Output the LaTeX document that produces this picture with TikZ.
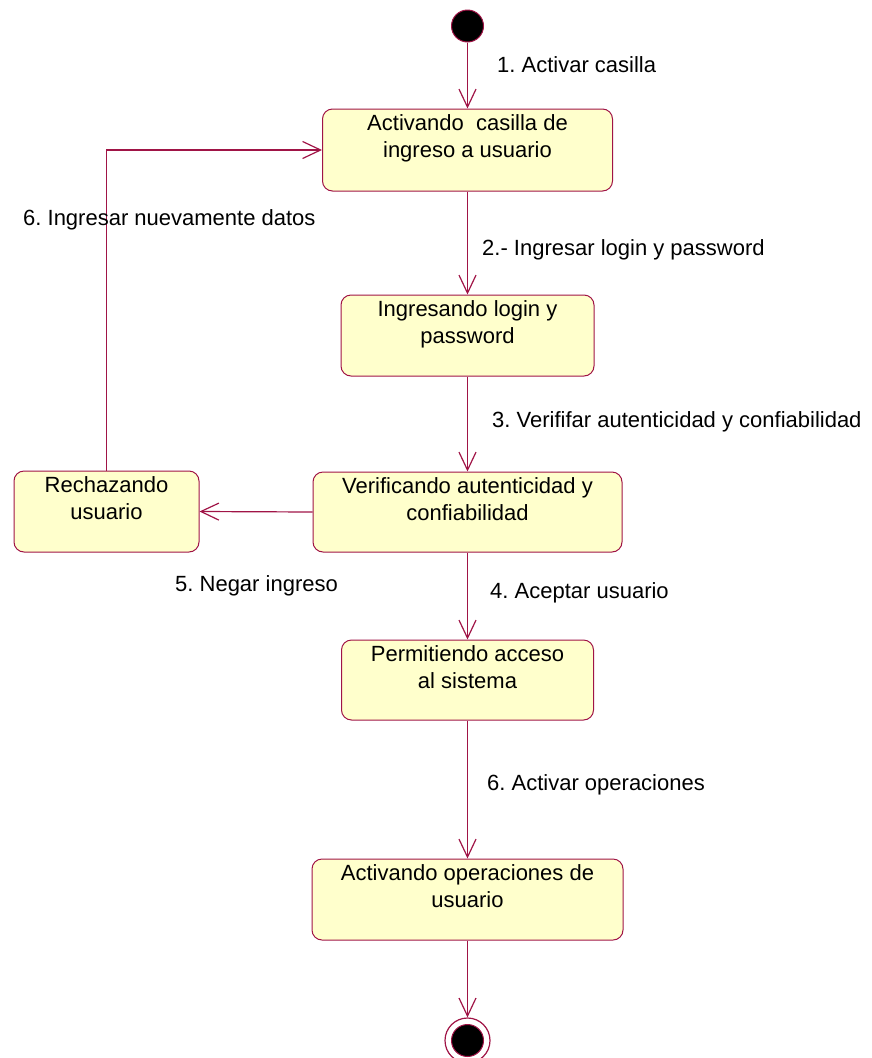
\documentclass[tikz,border=0pt]{standalone}
\usepackage{fontspec}
\setmainfont{Liberation Sans}
\usetikzlibrary{arrows.meta}
\definecolor{umlline}{RGB}{160,20,70}
\definecolor{umlfill}{RGB}{255,255,204}
\frenchspacing
\tikzset{
  statebox/.style={draw=umlline, fill=umlfill, line width=1pt, rounded corners=10pt,
    inner sep=0pt},
  statetext/.style={anchor=north, inner sep=0pt, align=center,
    font=\fontsize{22}{26.5}\selectfont},
  trans/.style={draw=umlline, line width=1.2pt,
    -{Straight Barb[length=18pt,width=17pt,line width=1.2pt]}},
  translabel/.style={anchor=west, inner sep=0pt, font=\fontsize{22}{26.5}\selectfont},
}
\begin{document}
\begin{tikzpicture}[x=1pt, y=-1pt]
\useasboundingbox (0,0) rectangle (871,1058);

% initial and final states
\node[circle, fill=black, draw=umlline, line width=1pt, minimum size=32pt, inner sep=0pt] (start) at (467.5,26) {};
\node[circle, draw=umlline, line width=1.2pt, minimum size=45pt, inner sep=0pt] (final) at (467.5,1040.5) {};
\node[circle, fill=black, draw=umlline, line width=1pt, minimum size=32pt, inner sep=0pt] (finaldot) at (final.center) {};

% states
\node[statebox, minimum width=290pt, minimum height=82pt] (b1) at (467.5,150) {};
\node[statetext] (t1) at ([yshift=-6pt]b1.north) {Activando\ \ casilla de\\ingreso a usuario};

\node[statebox, minimum width=253pt, minimum height=81pt] (b2) at (467.5,335.5) {};
\node[statetext] (t2) at ([yshift=-6pt]b2.north) {Ingresando login y\\password};

\node[statebox, minimum width=309pt, minimum height=80pt] (b3) at (467.5,512) {};
\node[statetext] (t3) at ([yshift=-6pt]b3.north) {Verificando autenticidad y\\confiabilidad};

\node[statebox, minimum width=185pt, minimum height=81pt] (b4) at (106.5,511.5) {};
\node[statetext] (t4) at ([yshift=-6pt]b4.north) {Rechazando\\usuario};

\node[statebox, minimum width=252pt, minimum height=80pt] (b5) at (467.5,680) {};
\node[statetext] (t5) at ([yshift=-6pt]b5.north) {Permitiendo acceso\\al sistema};

\node[statebox, minimum width=311pt, minimum height=81pt] (b6) at (467.5,899.5) {};
\node[statetext] (t6) at ([yshift=-6pt]b6.north) {Activando operaciones de\\usuario};

% transitions
\draw[trans] (start) -- (b1);
\draw[trans] (b1) -- (b2);
\draw[trans] (b2) -- (b3);
\draw[trans] (b3.west) -- (b4.east);
\draw[trans] (b4.north) |- (b1.west);
\draw[trans] (b3) -- (b5);
\draw[trans] (b5) -- (b6);
\draw[trans] (b6) -- (final);

% transition labels
\node[translabel] (l1) at (497,65) {1. Activar casilla};
\node[translabel] (l2) at (482,250) {2.- Ingresar login y password};
\node[translabel] (l3) at (492,422) {3. Verififar autenticidad y confiabilidad};
\node[translabel] (l6) at (23,220) {6. Ingresar nuevamente datos};
\node[translabel] (l5) at (175,586) {5. Negar ingreso};
\node[translabel] (l4) at (490,593) {4. Aceptar usuario};
\node[translabel] (l7) at (487,785) {6. Activar operaciones};
\end{tikzpicture}
\end{document}
